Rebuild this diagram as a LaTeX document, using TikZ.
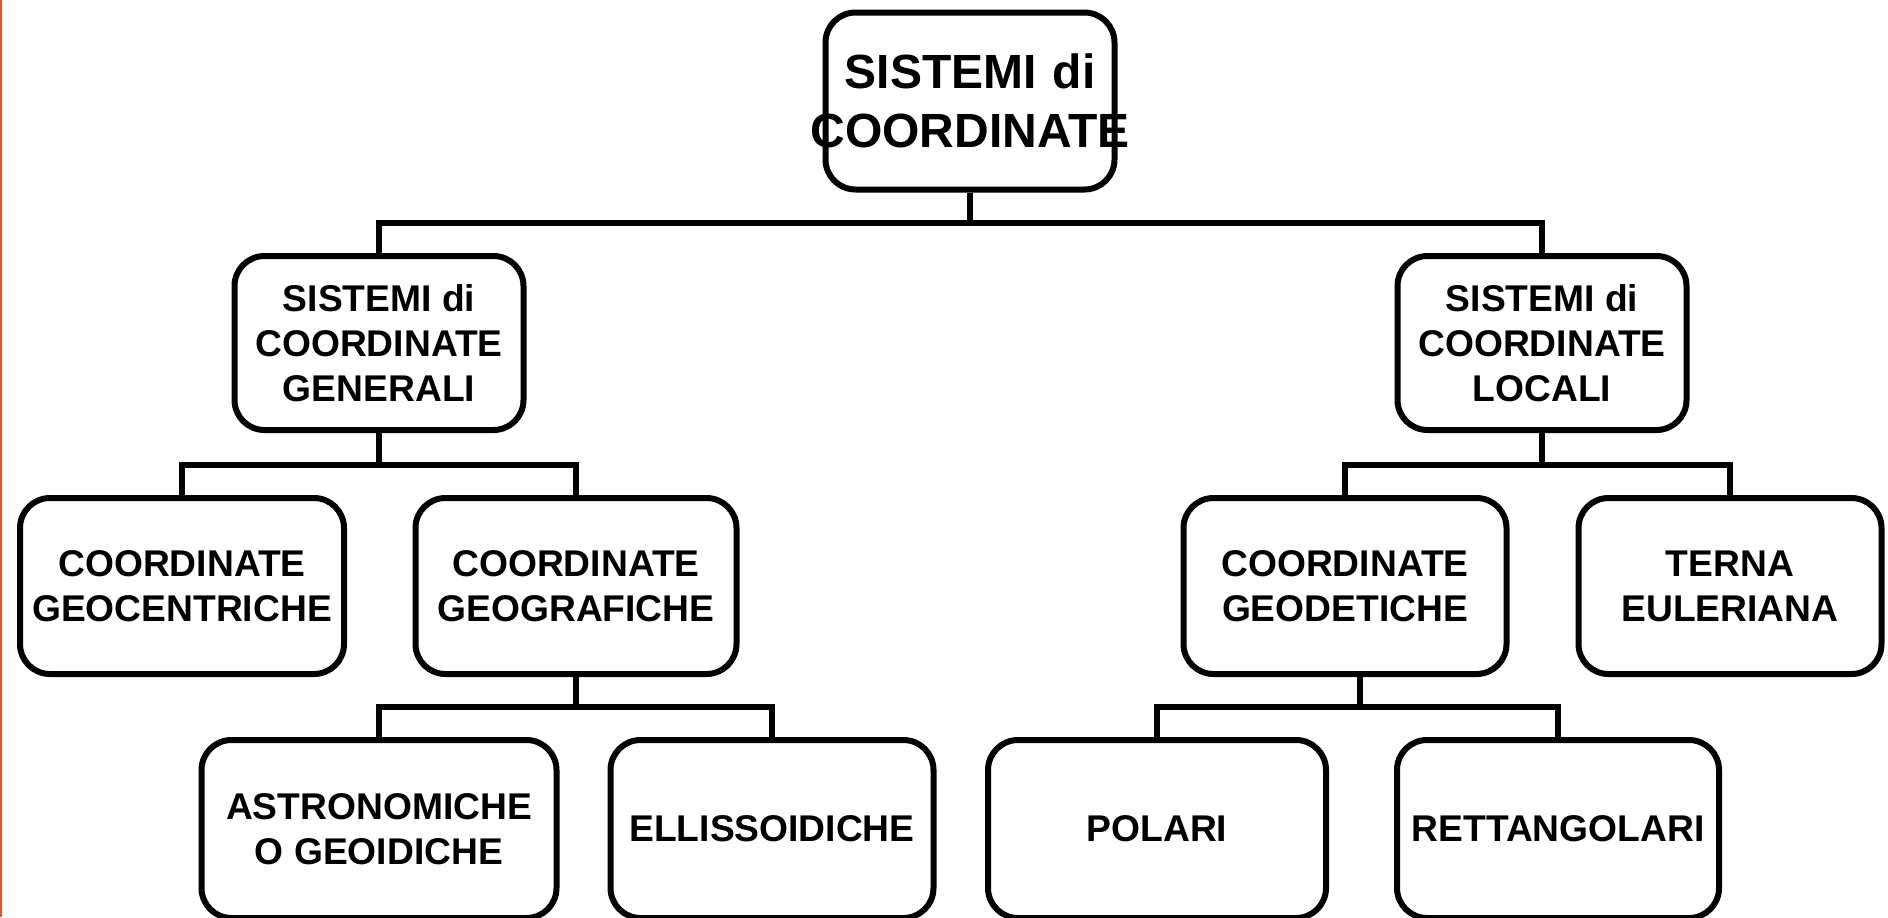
\documentclass[tikz,border=0pt]{standalone}
\usepackage{fontspec}
\setmainfont{Liberation Sans}
\usetikzlibrary{positioning}
\definecolor{edgeorange}{RGB}{240,80,40}
\tikzset{
  box/.style={rectangle, draw=black, line width=3pt, rounded corners=15pt,
    align=center, inner sep=0pt, minimum height=87pt,
    font=\fontsize{18.6}{22.5}\selectfont\bfseries},
  rootbox/.style={box, minimum height=88.5pt, text width=140pt,
    font=\fontsize{24}{29.5}\selectfont\bfseries},
  link/.style={line width=3pt, draw=black}
}

\begin{document}
\begin{tikzpicture}[x=0.5pt, y=-0.5pt]
  \useasboundingbox (0,0) rectangle (1888,917);
  \draw[edgeorange, line width=1pt] (1,0) -- (1,917);

  % Root
  \node[rootbox, minimum width=144.5pt] (root) at (970,101)
    {SISTEMI di\\\makebox[\linewidth]{COORDINATE}};

  % Second level
  \node[box, minimum width=144.5pt] (gen) at (379,343) {SISTEMI di\\COORDINATE\\GENERALI};
  \node[box, minimum width=144.5pt] (loc) at (1542,343) {SISTEMI di\\COORDINATE\\LOCALI};

  % Third level
  \node[box, minimum width=162pt, minimum height=88pt] (geoc) at (182,586) {COORDINATE\\GEOCENTRICHE};
  \node[box, minimum width=160.5pt, minimum height=88pt] (geog) at (576,586) {COORDINATE\\GEOGRAFICHE};
  \node[box, minimum width=161.5pt, minimum height=88pt] (geod) at (1345,586) {COORDINATE\\GEODETICHE};
  \node[box, minimum width=151.5pt, minimum height=88pt] (terna) at (1730,586) {TERNA\\EULERIANA};

  % Fourth level
  \node[box, minimum width=177.5pt, minimum height=89pt] (astro) at (379,829) {ASTRONOMICHE\\O GEOIDICHE};
  \node[box, minimum width=161.5pt, minimum height=89pt] (ellis) at (772,829) {ELLISSOIDICHE};
  \node[box, minimum width=169pt, minimum height=89pt] (polari) at (1157,829) {POLARI};
  \node[box, minimum width=161pt, minimum height=89pt] (rett) at (1558,829) {RETTANGOLARI};

  % Connectors
  \coordinate (j1) at (970,223);
  \coordinate (j2) at (379,465);
  \coordinate (j3) at (1542,465);
  \coordinate (j4) at (576,707);
  \coordinate (j5) at (1360,707);

  \draw[link] (root) -- (j1);
  \draw[link] (gen.north) |- (j1) -| (loc.north);
  \draw[link] (gen) -- (j2);
  \draw[link] (geoc.north) |- (j2) -| (geog.north);
  \draw[link] (loc) -- (j3);
  \draw[link] (geod.north) |- (j3) -| (terna.north);
  \draw[link] (geog) -- (j4);
  \draw[link] (astro.north) |- (j4) -| (ellis.north);
  \draw[link] (geod.south -| j5) -- (j5);
  \draw[link] (polari.north) |- (j5) -| (rett.north);
\end{tikzpicture}
\end{document}
